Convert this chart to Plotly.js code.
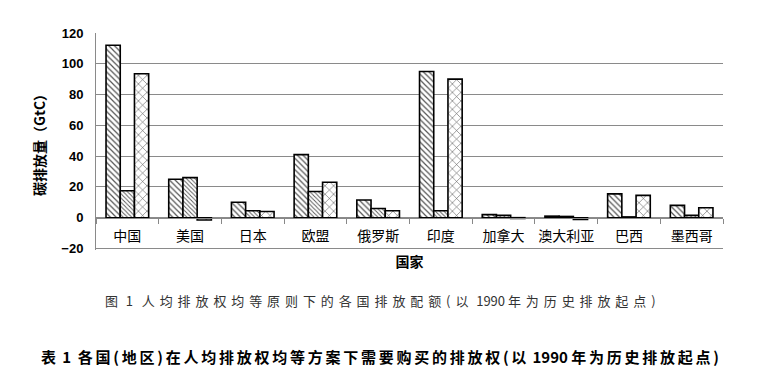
<!DOCTYPE html>
<html><head><meta charset="utf-8">
<script src="https://cdn.plot.ly/plotly-3.0.1.min.js"></script>
<style>body{margin:0;background:#fff}#c{width:767px;height:377px}</style>
</head><body><div id="c"></div>
<script>
const countries = ["中国","美国","日本","欧盟","俄罗斯","印度","加拿大","澳大利亚","巴西","墨西哥"];
const series1 = [112, 25, 10, 41, 11.5, 95, 2, 1, 15.5, 8];
const series2 = [17.5, 26, 4.5, 17, 6, 4.5, 1.5, 0.8, 0.5, 1.5];
const series3 = [93.5, -1.5, 4, 23, 4.5, 90, -0.5, -1.2, 14.5, 6.5];
const yTicks = [-20, 0, 20, 40, 60, 80, 100, 120];

function bar(y, shape, size, sol){
  return {type:'bar', x:countries, y:y,
    marker:{color:'#fff', line:{color:'#000', width:1.6},
      pattern:{shape:shape, size:size, solidity:sol, fgcolor:'#555', bgcolor:'#fff'}},
    showlegend:false, hoverinfo:'skip'};
}
const data = [bar(series1,'\\',4,0.3), bar(series2,'\\',3,0.3), bar(series3,'x',6,0.18)];
const ls = (s, t) => '<span style="letter-spacing:' + s + 'px">' + t + '</span>';
const cap1 = ls(4.9,'图') + '&nbsp;1&nbsp;&nbsp;&nbsp;' + ls(4.9,'人均排放权均等原则下的各国排放配额(以') + '&nbsp;1990&nbsp;' + ls(4.9,'年为历史排放起点)');
const cap2 = '<b>' + ls(2.75,'表') + '&nbsp;1&nbsp;&nbsp;' + ls(2.75,'各国(地区)在人均排放权均等方案下需要购买的排放权(以') + '&nbsp;1990&nbsp;' + ls(2.75,'年为历史排放起点)') + '</b>';
const layout = {
  width:767, height:377, paper_bgcolor:'#fff', plot_bgcolor:'#fff',
  margin:{l:96, r:44, t:33, b:127},
  barmode:'group', bargap:0.32, bargroupgap:0,
  font:{family:'Arial, "Noto Sans CJK SC", sans-serif', color:'#000'},
  xaxis:{anchor:'free', position:21/141, showline:true, linecolor:'#888', linewidth:1,
    ticks:'outside', tickson:'boundaries', ticklen:5, tickcolor:'#888', ticklabelstandoff:6, tickangle:0,
    tickfont:{size:14, family:'"Noto Sans CJK SC", sans-serif'}, showgrid:false, zeroline:false,
    title:{text:'<b>国家</b>', font:{size:14, family:'"Noto Sans CJK SC", sans-serif'}, standoff:12}},
  yaxis:{range:[-21,120], tickvals:yTicks, showgrid:true, gridcolor:'#8a8a8a', gridwidth:1,
    zeroline:false, showline:true, linecolor:'#8a8a8a', ticks:'', ticklabelstandoff:9,
    tickfont:{size:13, family:'Arial, sans-serif', weight:'bold'},
    title:{text:'<b>碳排放量（GtC）</b>', font:{size:14, family:'"Noto Sans CJK SC", sans-serif'}, standoff:12}},
  annotations:[
    {xref:'paper', yref:'paper', x:0.011, y:-0.233, xanchor:'left', yanchor:'middle', showarrow:false,
     text:cap1, font:{size:13, color:'#333', family:'"Noto Sans CJK SC", serif'}},
    {xref:'paper', yref:'paper', x:-0.091, y:-0.493, xanchor:'left', yanchor:'middle', showarrow:false,
     text:cap2, font:{size:15, color:'#000', family:'"Noto Sans CJK SC", sans-serif'}}
  ]
};
Plotly.newPlot('c', data, layout, {staticPlot:true});
</script></body></html>
